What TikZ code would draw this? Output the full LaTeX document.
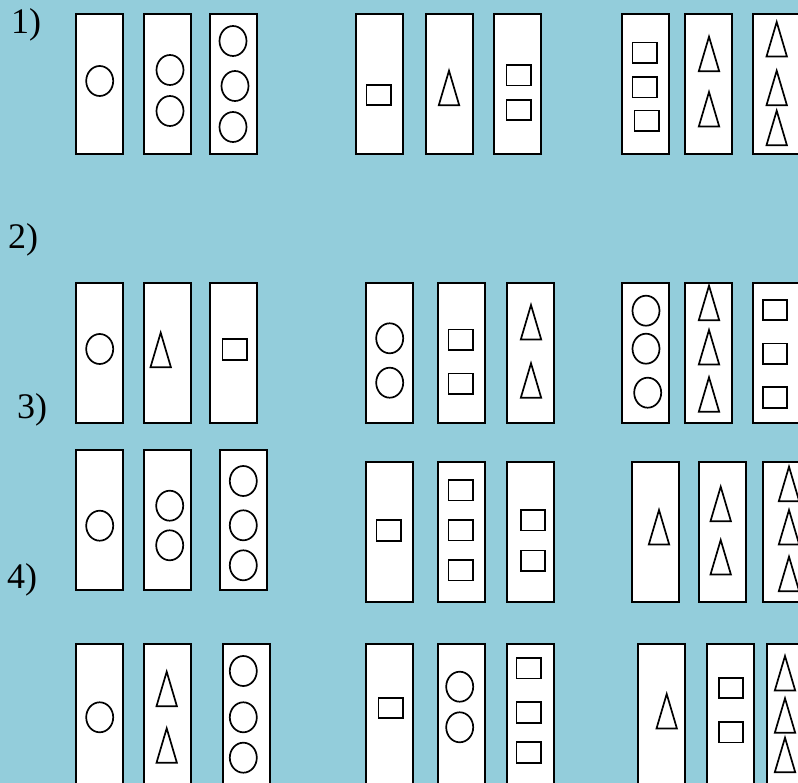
\documentclass[tikz,border=0pt]{standalone}
\usepackage{fontspec}
\setmainfont{Liberation Serif}
\definecolor{bgblue}{RGB}{147,205,219}
\tikzset{
  card/.style={draw=black, fill=white, line width=2pt},
  figline/.style={draw=black, line width=1.7pt, line join=miter},
  lbl/.style={anchor=base west, inner sep=0pt, font=\fontsize{36}{40}\selectfont}
}
\newcommand\myCard[2]{\draw[card] (#1,#2) rectangle ++(47,140);}
\newcommand\myCirc[2]{\draw[figline] (#1,#2) ellipse [x radius=13.5pt, y radius=15pt];}
\newcommand\mySq[2]{\draw[figline] ($(#1,#2)+(-12.3,-10.3)$) rectangle ($(#1,#2)+(12.3,10.3)$);}
\newcommand\myTri[2]{\draw[figline] (#1,#2) -- ++(10.2,34.5) -- ++(-20.4,0) -- cycle;}
\usetikzlibrary{calc}
\begin{document}
\begin{tikzpicture}[x=1pt,y=-1pt]
\fill[bgblue] (0,0) rectangle (798,783);
\useasboundingbox (0,0) rectangle (798,783);
\clip (0,0) rectangle (798,783);
% labels
\node[lbl] (l1) at (11,33.3) {1)};
\node[lbl] (l2) at (8,248.3) {2)};
\node[lbl] (l3) at (17,419) {3)};
\node[lbl] (l4) at (7,588) {4)};
% ---------- row 1
\foreach \x in {76,144,210,356.3,426.3,494.3,622.3,684.7,752.7} {\myCard{\x}{14}}
\myCirc{99.7}{81}
\myCirc{170}{70} \myCirc{170}{111}
\myCirc{233}{41} \myCirc{235}{86} \myCirc{233}{127}
\mySq{378.7}{95}
\myTri{449}{70.7}
\mySq{518.7}{75.2} \mySq{518.7}{110}
\mySq{644.7}{52.8} \mySq{644.7}{87.2} \mySq{646.8}{120.8}
\myTri{709}{36.7} \myTri{709}{92}
\myTri{776.7}{22} \myTri{776.7}{70.7} \myTri{776.7}{110.7}
% ---------- row 2
\foreach \x in {76,144,210,366.3,438.3,506.7,622.3,684.7,752.7} {\myCard{\x}{283}}
\myCirc{99.7}{349}
\myTri{160.7}{332.7}
\mySq{234.7}{349.5}
\myCirc{389.7}{338.3} \myCirc{389.7}{382.7}
\mySq{460.7}{339.7} \mySq{460.7}{383.7}
\myTri{531}{305} \myTri{531}{363.3}
\myCirc{646}{310.7} \myCirc{646}{348.7} \myCirc{647.7}{392.7}
\myTri{709}{285.7} \myTri{709}{330} \myTri{709}{377.3}
\mySq{775}{310} \mySq{775}{353.7} \mySq{775}{397.5}
% ---------- row 3
\foreach \x in {76,144,220} {\myCard{\x}{450.3}}
\foreach \x in {366.3,438.3,506.7,632.3,698.7,762.7} {\myCard{\x}{462.3}}
\myCirc{99.7}{525.7}
\myCirc{169.7}{505.7} \myCirc{169.7}{545.3}
\myCirc{243.3}{481} \myCirc{243.3}{525.3} \myCirc{243.3}{565.3}
\mySq{388.8}{530.5}
\mySq{460.7}{490.3} \mySq{460.7}{530.3} \mySq{460.7}{570.3}
\mySq{533}{520.3} \mySq{533}{560.8}
\myTri{659}{510}
\myTri{720.7}{486.7} \myTri{720.7}{540}
\myTri{789}{466.7} \myTri{789}{510} \myTri{789}{556.7}
% ---------- row 4
\foreach \x in {76,144,222.7,366.3,438.3,506.7,638.3,706.7,766.7} {\myCard{\x}{643.7}}
\myCirc{99.7}{717.3}
\myTri{166.7}{671.7} \myTri{166.7}{728.3}
\myCirc{243.3}{671} \myCirc{243.3}{717.3} \myCirc{243.3}{757.7}
\mySq{390.8}{708}
\myCirc{459.7}{686.7} \myCirc{459.7}{727.3}
\mySq{528.8}{668.2} \mySq{528.8}{712.5} \mySq{528.8}{752.5}
\myTri{666.7}{694}
\mySq{731}{688} \mySq{731}{732.3}
\myTri{785}{656} \myTri{785}{698.3} \myTri{785}{737.7}
\end{tikzpicture}
\end{document}
